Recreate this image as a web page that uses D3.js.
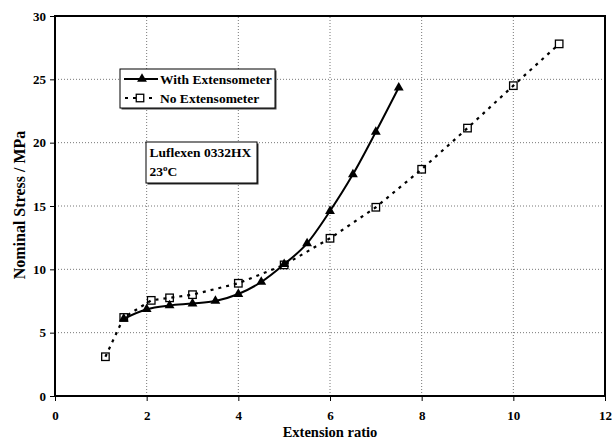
<!DOCTYPE html>
<html><head><meta charset="utf-8">
<script src="https://cdn.jsdelivr.net/npm/d3@7"></script>
<style>body{margin:0;background:#fff}svg{display:block}svg text{font-family:"Liberation Serif","Tinos","DejaVu Serif",serif !important;font-weight:bold;fill:#000}</style>
</head><body>
<script>
const withX = [1.5, 2, 2.5, 3, 3.5, 4, 4.5, 5, 5.5, 6, 6.5, 7, 7.5];
const withY = [6.1, 6.85, 7.15, 7.3, 7.5, 8.05, 9.0, 10.4, 12.05, 14.6, 17.5, 20.85, 24.35];
const noX = [1.1, 1.5, 2.1, 2.5, 3, 4, 5, 6, 7, 8, 9, 10, 11];
const noY = [3.1, 6.2, 7.55, 7.75, 8.0, 8.9, 10.35, 12.45, 14.9, 17.9, 21.15, 24.5, 27.8];
const xTicks = [0, 2, 4, 6, 8, 10, 12];
const yTicks = [0, 5, 10, 15, 20, 25, 30];
const legendLabels = ["With Extensometer", "No Extensometer"];
const noteLines = ["Luflexen 0332HX", "23"];

const FONT = '"Liberation Serif","Tinos","DejaVu Serif",serif';
const W = 612, H = 446;
const svg = d3.select("body").append("svg").attr("width", W).attr("height", H);
const x = d3.scaleLinear().domain([0, 12]).range([55, 605]);
const y = d3.scaleLinear().domain([0, 30]).range([396, 16]);

// grid
const grid = svg.append("g").attr("stroke", "#777").attr("stroke-width", 1).attr("stroke-dasharray", "1,2");
xTicks.slice(1, -1).forEach(t => grid.append("line").attr("x1", x(t)).attr("x2", x(t)).attr("y1", y(0)).attr("y2", y(30)));
yTicks.slice(1, -1).forEach(t => grid.append("line").attr("x1", x(0)).attr("x2", x(12)).attr("y1", y(t)).attr("y2", y(t)));

// axes
const xAxis = d3.axisBottom(x).tickValues(xTicks).tickSize(5).tickPadding(10);
const yAxis = d3.axisLeft(y).tickValues(yTicks).tickSize(5).tickPadding(4);
const gx = svg.append("g").attr("transform", `translate(0,${y(0)})`).call(xAxis);
const gy = svg.append("g").attr("transform", `translate(${x(0)},0)`).call(yAxis);
[gx, gy].forEach(g => {
  g.attr("font-family", FONT).attr("font-size", 13).attr("font-weight", "bold");
  g.select(".domain").remove();
  g.selectAll("line").attr("stroke", "#000").attr("stroke-width", 1);
  g.selectAll("text").attr("font-family", FONT).style("font-size", "13px");
});
svg.append("rect").attr("x", x(0)).attr("y", y(30)).attr("width", x(12) - x(0)).attr("height", y(0) - y(30))
  .attr("fill", "none").attr("stroke", "#000").attr("stroke-width", 2);

svg.append("text").attr("x", 330).attr("y", 437).attr("text-anchor", "middle").attr("font-family", FONT).style("font-size", "14.5px").text("Extension ratio");
svg.append("text").attr("transform", "translate(24.5,205) rotate(-90)").attr("text-anchor", "middle").attr("font-family", FONT).style("font-size", "16px").text("Nominal Stress / MPa");

// series
const withData = withX.map((v, i) => [v, withY[i]]);
const noData = noX.map((v, i) => [v, noY[i]]);
const smooth = d3.line().x(d => x(d[0])).y(d => y(d[1])).curve(d3.curveMonotoneX);
const straight = d3.line().x(d => x(d[0])).y(d => y(d[1]));

const tri = d3.symbol().type(d3.symbolTriangle).size(42);
const sq = 7.5;

svg.selectAll(".sq").data(noData).enter().append("rect")
  .attr("x", d => x(d[0]) - sq / 2).attr("y", d => y(d[1]) - sq / 2).attr("width", sq).attr("height", sq)
  .attr("fill", "#fff").attr("stroke", "#000").attr("stroke-width", 1.3);
svg.append("path").attr("d", straight(noData)).attr("fill", "none").attr("stroke", "#000").attr("stroke-width", 2.2).attr("stroke-dasharray", "3,5");

svg.append("path").attr("d", smooth(withData)).attr("fill", "none").attr("stroke", "#000").attr("stroke-width", 2);
svg.selectAll(".tri").data(withData).enter().append("path")
  .attr("d", tri).attr("transform", d => `translate(${x(d[0])},${y(d[1])})`).attr("fill", "#000");

// legend
const lg = svg.append("g");
lg.append("rect").attr("x", 121.5).attr("y", 70.5).attr("width", 155).attr("height", 39).attr("fill", "#444");
lg.append("rect").attr("x", 120).attr("y", 69).attr("width", 155).attr("height", 39).attr("fill", "#fff").attr("stroke", "#000").attr("stroke-width", 1);
lg.append("line").attr("x1", 124).attr("x2", 158).attr("y1", 79).attr("y2", 79).attr("stroke", "#000").attr("stroke-width", 2);
lg.append("path").attr("d", tri).attr("transform", "translate(142,79)").attr("fill", "#000");
lg.append("text").attr("x", 160).attr("y", 84).attr("font-family", FONT).style("font-size", "13.5px").text(legendLabels[0]);
lg.append("line").attr("x1", 125).attr("x2", 156).attr("y1", 98).attr("y2", 98).attr("stroke", "#000").attr("stroke-width", 2.2).attr("stroke-dasharray", "3,5");
lg.append("rect").attr("x", 140 - sq / 2).attr("y", 98 - sq / 2).attr("width", sq).attr("height", sq).attr("fill", "#fff").attr("stroke", "#000").attr("stroke-width", 1.3);
lg.append("text").attr("x", 160).attr("y", 102.5).attr("font-family", FONT).style("font-size", "13.5px").text(legendLabels[1]);

// note box
const nb = svg.append("g");
nb.append("rect").attr("x", 147.5).attr("y", 143.5).attr("width", 111).attr("height", 41).attr("fill", "#333");
nb.append("rect").attr("x", 146).attr("y", 142).attr("width", 111).attr("height", 41).attr("fill", "#fff").attr("stroke", "#000").attr("stroke-width", 1);
nb.append("text").attr("x", 149.5).attr("y", 157).attr("font-family", FONT).style("font-size", "13.5px").text(noteLines[0]);
const t2 = nb.append("text").attr("x", 149.5).attr("y", 175.5).attr("font-family", FONT).style("font-size", "13.5px").text(noteLines[1]);
t2.append("tspan").attr("dy", -5).style("font-size", "9px").text("o");
t2.append("tspan").attr("dy", 5).text("C");
</script>
</body></html>
